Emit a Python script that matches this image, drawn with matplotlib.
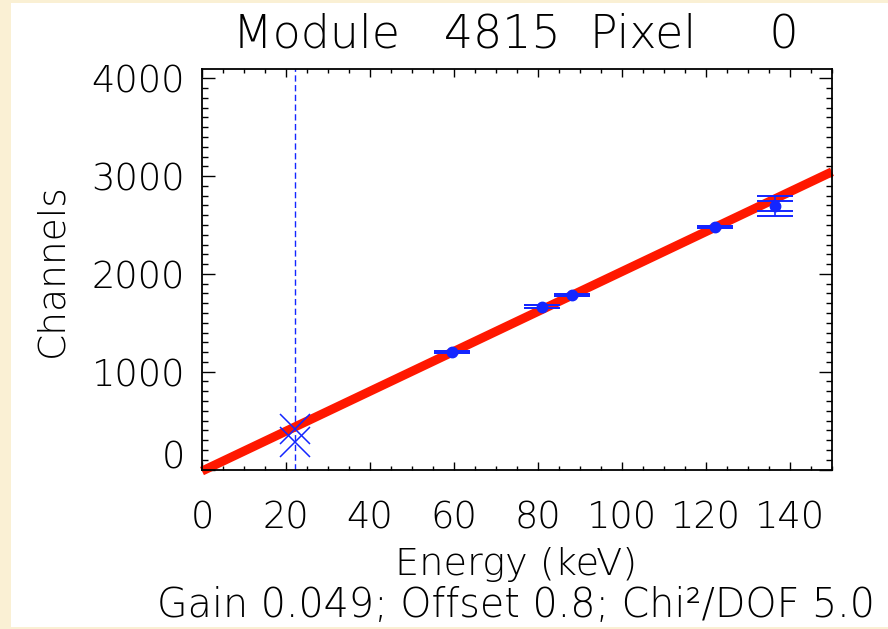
import matplotlib
matplotlib.use("Agg")
import matplotlib.pyplot as plt
from matplotlib.patches import Rectangle
from matplotlib.ticker import MultipleLocator, FixedLocator

# ---------------- data ----------------
title_text = "Module   4815  Pixel     0"
x_label = "Energy (keV)"
y_label = "Channels"
footer_text = "Gain 0.049; Offset 0.8; Chi\u00b2/DOF 5.0"

peak_energy = [59.5, 81.0, 88.0, 122.1, 136.5]
peak_channel = [1200, 1666, 1787, 2483, 2695]
channel_err = [10, 17, 10, 10, 100]
channel_err_inner = [10, 17, 10, 10, 50]

rejected_energy = [22.1, 22.1]
rejected_channel = [410, 280]

dashed_energy = 22.1

fit_energy = [0, 150]
fit_channel = [-16, 3045]

x_range = (0, 150)
y_range = (0, 4096)
x_ticks = [0, 20, 40, 60, 80, 100, 120, 140]
x_tick_labels = ["0", "20", "40", "60", "80", "100", "120", "140"]
y_ticks = [0, 1000, 2000, 3000, 4000]
y_tick_labels = ["0", "1000", "2000", "3000", "4000"]

# ---------------- style ----------------
plt.rcParams['font.family'] = ['DejaVu Sans']
plt.rcParams['font.weight'] = 200
BLUE = '#1426FF'
RED = '#FF1800'
CREAM = '#FAF0D4'
W, H = 888, 629

fig = plt.figure(figsize=(W / 100, H / 100), dpi=100, facecolor=CREAM)
fig.patches.append(Rectangle((11 / W, 2 / H), 1 - 11 / W, 1 - 5 / H,
                             transform=fig.transFigure, facecolor='white',
                             edgecolor='none', zorder=-5))

ax = fig.add_axes([202 / W, (H - 469.5) / H, 630 / W, 400.5 / H])
ax.set_zorder(2)
ax.set_facecolor('white')
ax.set_xlim(*x_range)
ax.set_ylim(*y_range)

# fit line
ax.plot(fit_energy, fit_channel, color=RED, lw=6.5, solid_capstyle='butt',
        clip_on=False, zorder=2)

# dashed line
ax.axvline(dashed_energy, color=BLUE, lw=1.0, ls=(0, (4.5, 2.5)), zorder=1)

# rejected points
ax.plot(rejected_energy, rejected_channel, ls='none', marker='x', ms=22,
        mew=1.1, color=BLUE, zorder=3)

# measured peaks
ax.errorbar(peak_energy, peak_channel, yerr=channel_err, fmt='o', color=BLUE,
            ms=7.5, capsize=13, capthick=1.4, elinewidth=1.2, zorder=4)
ax.errorbar(peak_energy, peak_channel, yerr=channel_err_inner, fmt='none',
            ecolor=BLUE, capsize=13, capthick=1.4, elinewidth=1.2, zorder=4)

# ticks
ax.xaxis.set_major_locator(FixedLocator(x_ticks))
ax.set_xticklabels(x_tick_labels)
ax.xaxis.set_minor_locator(MultipleLocator(5))
ax.yaxis.set_major_locator(FixedLocator(y_ticks))
ax.set_yticklabels([""] + y_tick_labels[1:])
ax.yaxis.set_minor_locator(MultipleLocator(100))

ax.tick_params(axis='x', which='major', direction='in', length=5.8, width=1.0,
               top=True, bottom=True, labelsize=26.5, pad=21.5)
ax.tick_params(axis='x', which='minor', direction='in', length=2.9, width=1.0,
               top=True, bottom=True)
ax.tick_params(axis='y', which='major', direction='in', length=9.1, width=1.0,
               left=True, right=True, labelsize=26.5, pad=12.2)
ax.tick_params(axis='y', which='minor', direction='in', length=4.5, width=1.0,
               left=True, right=True)
for s in ax.spines.values():
    s.set_linewidth(1.3)

# the "0" y label sits higher than its tick, as in the reference
ax.annotate(y_tick_labels[0], xy=(0, y_ticks[0]), xycoords=('axes fraction', 'data'),
            xytext=(-12.2, 8.6), textcoords='offset points', ha='right',
            va='center', fontsize=26.5, annotation_clip=False)

# texts
fig.text(516 / W, 1 - 47 / H, title_text, ha='center', va='baseline', fontsize=33)
fig.text(516 / W, 1 - 575 / H, x_label, ha='center', va='baseline', fontsize=27.5)
fig.text(516 / W, 1 - 617 / H, footer_text, ha='center', va='baseline', fontsize=28.5)
fig.text(62 / W, 1 - 270 / H, y_label, rotation=90, rotation_mode='anchor',
         ha='center', va='baseline', fontsize=27)

fig.savefig("out.png", dpi=100, facecolor=CREAM)
